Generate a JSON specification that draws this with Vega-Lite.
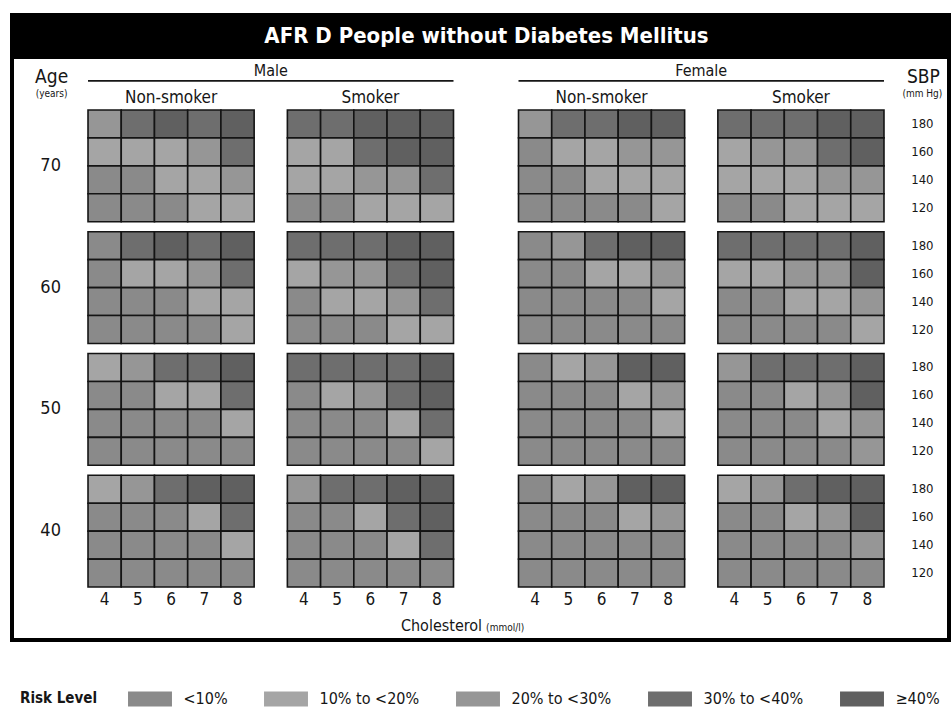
{
  "$schema": "https://vega.github.io/schema/vega-lite/v6.json",
  "description": "WHO risk chart, AFR D, people without diabetes",
  "padding": {"left": 10, "top": 13, "right": 0, "bottom": 0},
  "background": "white",
  "spacing": 0,
  "config": {
    "font": "Liberation Sans Narrow, DejaVu Sans Condensed, Roboto Condensed, sans-serif",
    "text": {"color": "#161616", "baseline": "middle"}
  },
  "vconcat": [
    {
      "width": 937,
      "height": 38,
      "view": {"fill": "black", "stroke": "black", "strokeWidth": 4},
      "data": {"values": [{"title": "AFR D People without Diabetes Mellitus"}]},
      "mark": {"type": "text", "color": "white", "fontSize": 22, "fontWeight": "bold", "dx": 6, "dy": 2},
      "encoding": {"text": {"field": "title"}}
    },
    {
      "width": 937,
      "height": 583,
      "view": {"fill": "white", "stroke": "black", "strokeWidth": 4},
      "data": {"values": [
        {"sex":"Male","smoker":"Non-smoker","age":70,"sbp":180,"chol":4,"risk":2},
        {"sex":"Male","smoker":"Non-smoker","age":70,"sbp":180,"chol":5,"risk":3},
        {"sex":"Male","smoker":"Non-smoker","age":70,"sbp":180,"chol":6,"risk":4},
        {"sex":"Male","smoker":"Non-smoker","age":70,"sbp":180,"chol":7,"risk":3},
        {"sex":"Male","smoker":"Non-smoker","age":70,"sbp":180,"chol":8,"risk":4},
        {"sex":"Male","smoker":"Non-smoker","age":70,"sbp":160,"chol":4,"risk":1},
        {"sex":"Male","smoker":"Non-smoker","age":70,"sbp":160,"chol":5,"risk":1},
        {"sex":"Male","smoker":"Non-smoker","age":70,"sbp":160,"chol":6,"risk":1},
        {"sex":"Male","smoker":"Non-smoker","age":70,"sbp":160,"chol":7,"risk":2},
        {"sex":"Male","smoker":"Non-smoker","age":70,"sbp":160,"chol":8,"risk":3},
        {"sex":"Male","smoker":"Non-smoker","age":70,"sbp":140,"chol":4,"risk":0},
        {"sex":"Male","smoker":"Non-smoker","age":70,"sbp":140,"chol":5,"risk":0},
        {"sex":"Male","smoker":"Non-smoker","age":70,"sbp":140,"chol":6,"risk":1},
        {"sex":"Male","smoker":"Non-smoker","age":70,"sbp":140,"chol":7,"risk":1},
        {"sex":"Male","smoker":"Non-smoker","age":70,"sbp":140,"chol":8,"risk":2},
        {"sex":"Male","smoker":"Non-smoker","age":70,"sbp":120,"chol":4,"risk":0},
        {"sex":"Male","smoker":"Non-smoker","age":70,"sbp":120,"chol":5,"risk":0},
        {"sex":"Male","smoker":"Non-smoker","age":70,"sbp":120,"chol":6,"risk":0},
        {"sex":"Male","smoker":"Non-smoker","age":70,"sbp":120,"chol":7,"risk":1},
        {"sex":"Male","smoker":"Non-smoker","age":70,"sbp":120,"chol":8,"risk":1},
        {"sex":"Male","smoker":"Non-smoker","age":60,"sbp":180,"chol":4,"risk":0},
        {"sex":"Male","smoker":"Non-smoker","age":60,"sbp":180,"chol":5,"risk":3},
        {"sex":"Male","smoker":"Non-smoker","age":60,"sbp":180,"chol":6,"risk":4},
        {"sex":"Male","smoker":"Non-smoker","age":60,"sbp":180,"chol":7,"risk":3},
        {"sex":"Male","smoker":"Non-smoker","age":60,"sbp":180,"chol":8,"risk":4},
        {"sex":"Male","smoker":"Non-smoker","age":60,"sbp":160,"chol":4,"risk":0},
        {"sex":"Male","smoker":"Non-smoker","age":60,"sbp":160,"chol":5,"risk":1},
        {"sex":"Male","smoker":"Non-smoker","age":60,"sbp":160,"chol":6,"risk":1},
        {"sex":"Male","smoker":"Non-smoker","age":60,"sbp":160,"chol":7,"risk":2},
        {"sex":"Male","smoker":"Non-smoker","age":60,"sbp":160,"chol":8,"risk":3},
        {"sex":"Male","smoker":"Non-smoker","age":60,"sbp":140,"chol":4,"risk":0},
        {"sex":"Male","smoker":"Non-smoker","age":60,"sbp":140,"chol":5,"risk":0},
        {"sex":"Male","smoker":"Non-smoker","age":60,"sbp":140,"chol":6,"risk":0},
        {"sex":"Male","smoker":"Non-smoker","age":60,"sbp":140,"chol":7,"risk":1},
        {"sex":"Male","smoker":"Non-smoker","age":60,"sbp":140,"chol":8,"risk":1},
        {"sex":"Male","smoker":"Non-smoker","age":60,"sbp":120,"chol":4,"risk":0},
        {"sex":"Male","smoker":"Non-smoker","age":60,"sbp":120,"chol":5,"risk":0},
        {"sex":"Male","smoker":"Non-smoker","age":60,"sbp":120,"chol":6,"risk":0},
        {"sex":"Male","smoker":"Non-smoker","age":60,"sbp":120,"chol":7,"risk":0},
        {"sex":"Male","smoker":"Non-smoker","age":60,"sbp":120,"chol":8,"risk":1},
        {"sex":"Male","smoker":"Non-smoker","age":50,"sbp":180,"chol":4,"risk":1},
        {"sex":"Male","smoker":"Non-smoker","age":50,"sbp":180,"chol":5,"risk":2},
        {"sex":"Male","smoker":"Non-smoker","age":50,"sbp":180,"chol":6,"risk":3},
        {"sex":"Male","smoker":"Non-smoker","age":50,"sbp":180,"chol":7,"risk":3},
        {"sex":"Male","smoker":"Non-smoker","age":50,"sbp":180,"chol":8,"risk":4},
        {"sex":"Male","smoker":"Non-smoker","age":50,"sbp":160,"chol":4,"risk":0},
        {"sex":"Male","smoker":"Non-smoker","age":50,"sbp":160,"chol":5,"risk":0},
        {"sex":"Male","smoker":"Non-smoker","age":50,"sbp":160,"chol":6,"risk":1},
        {"sex":"Male","smoker":"Non-smoker","age":50,"sbp":160,"chol":7,"risk":1},
        {"sex":"Male","smoker":"Non-smoker","age":50,"sbp":160,"chol":8,"risk":3},
        {"sex":"Male","smoker":"Non-smoker","age":50,"sbp":140,"chol":4,"risk":0},
        {"sex":"Male","smoker":"Non-smoker","age":50,"sbp":140,"chol":5,"risk":0},
        {"sex":"Male","smoker":"Non-smoker","age":50,"sbp":140,"chol":6,"risk":0},
        {"sex":"Male","smoker":"Non-smoker","age":50,"sbp":140,"chol":7,"risk":0},
        {"sex":"Male","smoker":"Non-smoker","age":50,"sbp":140,"chol":8,"risk":1},
        {"sex":"Male","smoker":"Non-smoker","age":50,"sbp":120,"chol":4,"risk":0},
        {"sex":"Male","smoker":"Non-smoker","age":50,"sbp":120,"chol":5,"risk":0},
        {"sex":"Male","smoker":"Non-smoker","age":50,"sbp":120,"chol":6,"risk":0},
        {"sex":"Male","smoker":"Non-smoker","age":50,"sbp":120,"chol":7,"risk":0},
        {"sex":"Male","smoker":"Non-smoker","age":50,"sbp":120,"chol":8,"risk":0},
        {"sex":"Male","smoker":"Non-smoker","age":40,"sbp":180,"chol":4,"risk":1},
        {"sex":"Male","smoker":"Non-smoker","age":40,"sbp":180,"chol":5,"risk":2},
        {"sex":"Male","smoker":"Non-smoker","age":40,"sbp":180,"chol":6,"risk":3},
        {"sex":"Male","smoker":"Non-smoker","age":40,"sbp":180,"chol":7,"risk":4},
        {"sex":"Male","smoker":"Non-smoker","age":40,"sbp":180,"chol":8,"risk":4},
        {"sex":"Male","smoker":"Non-smoker","age":40,"sbp":160,"chol":4,"risk":0},
        {"sex":"Male","smoker":"Non-smoker","age":40,"sbp":160,"chol":5,"risk":0},
        {"sex":"Male","smoker":"Non-smoker","age":40,"sbp":160,"chol":6,"risk":0},
        {"sex":"Male","smoker":"Non-smoker","age":40,"sbp":160,"chol":7,"risk":1},
        {"sex":"Male","smoker":"Non-smoker","age":40,"sbp":160,"chol":8,"risk":3},
        {"sex":"Male","smoker":"Non-smoker","age":40,"sbp":140,"chol":4,"risk":0},
        {"sex":"Male","smoker":"Non-smoker","age":40,"sbp":140,"chol":5,"risk":0},
        {"sex":"Male","smoker":"Non-smoker","age":40,"sbp":140,"chol":6,"risk":0},
        {"sex":"Male","smoker":"Non-smoker","age":40,"sbp":140,"chol":7,"risk":0},
        {"sex":"Male","smoker":"Non-smoker","age":40,"sbp":140,"chol":8,"risk":1},
        {"sex":"Male","smoker":"Non-smoker","age":40,"sbp":120,"chol":4,"risk":0},
        {"sex":"Male","smoker":"Non-smoker","age":40,"sbp":120,"chol":5,"risk":0},
        {"sex":"Male","smoker":"Non-smoker","age":40,"sbp":120,"chol":6,"risk":0},
        {"sex":"Male","smoker":"Non-smoker","age":40,"sbp":120,"chol":7,"risk":0},
        {"sex":"Male","smoker":"Non-smoker","age":40,"sbp":120,"chol":8,"risk":0},
        {"sex":"Male","smoker":"Smoker","age":70,"sbp":180,"chol":4,"risk":3},
        {"sex":"Male","smoker":"Smoker","age":70,"sbp":180,"chol":5,"risk":3},
        {"sex":"Male","smoker":"Smoker","age":70,"sbp":180,"chol":6,"risk":4},
        {"sex":"Male","smoker":"Smoker","age":70,"sbp":180,"chol":7,"risk":4},
        {"sex":"Male","smoker":"Smoker","age":70,"sbp":180,"chol":8,"risk":4},
        {"sex":"Male","smoker":"Smoker","age":70,"sbp":160,"chol":4,"risk":1},
        {"sex":"Male","smoker":"Smoker","age":70,"sbp":160,"chol":5,"risk":1},
        {"sex":"Male","smoker":"Smoker","age":70,"sbp":160,"chol":6,"risk":3},
        {"sex":"Male","smoker":"Smoker","age":70,"sbp":160,"chol":7,"risk":4},
        {"sex":"Male","smoker":"Smoker","age":70,"sbp":160,"chol":8,"risk":4},
        {"sex":"Male","smoker":"Smoker","age":70,"sbp":140,"chol":4,"risk":1},
        {"sex":"Male","smoker":"Smoker","age":70,"sbp":140,"chol":5,"risk":1},
        {"sex":"Male","smoker":"Smoker","age":70,"sbp":140,"chol":6,"risk":2},
        {"sex":"Male","smoker":"Smoker","age":70,"sbp":140,"chol":7,"risk":2},
        {"sex":"Male","smoker":"Smoker","age":70,"sbp":140,"chol":8,"risk":3},
        {"sex":"Male","smoker":"Smoker","age":70,"sbp":120,"chol":4,"risk":0},
        {"sex":"Male","smoker":"Smoker","age":70,"sbp":120,"chol":5,"risk":0},
        {"sex":"Male","smoker":"Smoker","age":70,"sbp":120,"chol":6,"risk":1},
        {"sex":"Male","smoker":"Smoker","age":70,"sbp":120,"chol":7,"risk":1},
        {"sex":"Male","smoker":"Smoker","age":70,"sbp":120,"chol":8,"risk":1},
        {"sex":"Male","smoker":"Smoker","age":60,"sbp":180,"chol":4,"risk":3},
        {"sex":"Male","smoker":"Smoker","age":60,"sbp":180,"chol":5,"risk":3},
        {"sex":"Male","smoker":"Smoker","age":60,"sbp":180,"chol":6,"risk":3},
        {"sex":"Male","smoker":"Smoker","age":60,"sbp":180,"chol":7,"risk":4},
        {"sex":"Male","smoker":"Smoker","age":60,"sbp":180,"chol":8,"risk":4},
        {"sex":"Male","smoker":"Smoker","age":60,"sbp":160,"chol":4,"risk":1},
        {"sex":"Male","smoker":"Smoker","age":60,"sbp":160,"chol":5,"risk":2},
        {"sex":"Male","smoker":"Smoker","age":60,"sbp":160,"chol":6,"risk":2},
        {"sex":"Male","smoker":"Smoker","age":60,"sbp":160,"chol":7,"risk":3},
        {"sex":"Male","smoker":"Smoker","age":60,"sbp":160,"chol":8,"risk":4},
        {"sex":"Male","smoker":"Smoker","age":60,"sbp":140,"chol":4,"risk":0},
        {"sex":"Male","smoker":"Smoker","age":60,"sbp":140,"chol":5,"risk":1},
        {"sex":"Male","smoker":"Smoker","age":60,"sbp":140,"chol":6,"risk":1},
        {"sex":"Male","smoker":"Smoker","age":60,"sbp":140,"chol":7,"risk":2},
        {"sex":"Male","smoker":"Smoker","age":60,"sbp":140,"chol":8,"risk":3},
        {"sex":"Male","smoker":"Smoker","age":60,"sbp":120,"chol":4,"risk":0},
        {"sex":"Male","smoker":"Smoker","age":60,"sbp":120,"chol":5,"risk":0},
        {"sex":"Male","smoker":"Smoker","age":60,"sbp":120,"chol":6,"risk":0},
        {"sex":"Male","smoker":"Smoker","age":60,"sbp":120,"chol":7,"risk":1},
        {"sex":"Male","smoker":"Smoker","age":60,"sbp":120,"chol":8,"risk":1},
        {"sex":"Male","smoker":"Smoker","age":50,"sbp":180,"chol":4,"risk":3},
        {"sex":"Male","smoker":"Smoker","age":50,"sbp":180,"chol":5,"risk":3},
        {"sex":"Male","smoker":"Smoker","age":50,"sbp":180,"chol":6,"risk":3},
        {"sex":"Male","smoker":"Smoker","age":50,"sbp":180,"chol":7,"risk":3},
        {"sex":"Male","smoker":"Smoker","age":50,"sbp":180,"chol":8,"risk":4},
        {"sex":"Male","smoker":"Smoker","age":50,"sbp":160,"chol":4,"risk":0},
        {"sex":"Male","smoker":"Smoker","age":50,"sbp":160,"chol":5,"risk":1},
        {"sex":"Male","smoker":"Smoker","age":50,"sbp":160,"chol":6,"risk":2},
        {"sex":"Male","smoker":"Smoker","age":50,"sbp":160,"chol":7,"risk":3},
        {"sex":"Male","smoker":"Smoker","age":50,"sbp":160,"chol":8,"risk":4},
        {"sex":"Male","smoker":"Smoker","age":50,"sbp":140,"chol":4,"risk":0},
        {"sex":"Male","smoker":"Smoker","age":50,"sbp":140,"chol":5,"risk":0},
        {"sex":"Male","smoker":"Smoker","age":50,"sbp":140,"chol":6,"risk":0},
        {"sex":"Male","smoker":"Smoker","age":50,"sbp":140,"chol":7,"risk":1},
        {"sex":"Male","smoker":"Smoker","age":50,"sbp":140,"chol":8,"risk":3},
        {"sex":"Male","smoker":"Smoker","age":50,"sbp":120,"chol":4,"risk":0},
        {"sex":"Male","smoker":"Smoker","age":50,"sbp":120,"chol":5,"risk":0},
        {"sex":"Male","smoker":"Smoker","age":50,"sbp":120,"chol":6,"risk":0},
        {"sex":"Male","smoker":"Smoker","age":50,"sbp":120,"chol":7,"risk":0},
        {"sex":"Male","smoker":"Smoker","age":50,"sbp":120,"chol":8,"risk":1},
        {"sex":"Male","smoker":"Smoker","age":40,"sbp":180,"chol":4,"risk":2},
        {"sex":"Male","smoker":"Smoker","age":40,"sbp":180,"chol":5,"risk":3},
        {"sex":"Male","smoker":"Smoker","age":40,"sbp":180,"chol":6,"risk":3},
        {"sex":"Male","smoker":"Smoker","age":40,"sbp":180,"chol":7,"risk":4},
        {"sex":"Male","smoker":"Smoker","age":40,"sbp":180,"chol":8,"risk":4},
        {"sex":"Male","smoker":"Smoker","age":40,"sbp":160,"chol":4,"risk":0},
        {"sex":"Male","smoker":"Smoker","age":40,"sbp":160,"chol":5,"risk":0},
        {"sex":"Male","smoker":"Smoker","age":40,"sbp":160,"chol":6,"risk":1},
        {"sex":"Male","smoker":"Smoker","age":40,"sbp":160,"chol":7,"risk":3},
        {"sex":"Male","smoker":"Smoker","age":40,"sbp":160,"chol":8,"risk":4},
        {"sex":"Male","smoker":"Smoker","age":40,"sbp":140,"chol":4,"risk":0},
        {"sex":"Male","smoker":"Smoker","age":40,"sbp":140,"chol":5,"risk":0},
        {"sex":"Male","smoker":"Smoker","age":40,"sbp":140,"chol":6,"risk":0},
        {"sex":"Male","smoker":"Smoker","age":40,"sbp":140,"chol":7,"risk":1},
        {"sex":"Male","smoker":"Smoker","age":40,"sbp":140,"chol":8,"risk":3},
        {"sex":"Male","smoker":"Smoker","age":40,"sbp":120,"chol":4,"risk":0},
        {"sex":"Male","smoker":"Smoker","age":40,"sbp":120,"chol":5,"risk":0},
        {"sex":"Male","smoker":"Smoker","age":40,"sbp":120,"chol":6,"risk":0},
        {"sex":"Male","smoker":"Smoker","age":40,"sbp":120,"chol":7,"risk":0},
        {"sex":"Male","smoker":"Smoker","age":40,"sbp":120,"chol":8,"risk":0},
        {"sex":"Female","smoker":"Non-smoker","age":70,"sbp":180,"chol":4,"risk":2},
        {"sex":"Female","smoker":"Non-smoker","age":70,"sbp":180,"chol":5,"risk":3},
        {"sex":"Female","smoker":"Non-smoker","age":70,"sbp":180,"chol":6,"risk":3},
        {"sex":"Female","smoker":"Non-smoker","age":70,"sbp":180,"chol":7,"risk":4},
        {"sex":"Female","smoker":"Non-smoker","age":70,"sbp":180,"chol":8,"risk":4},
        {"sex":"Female","smoker":"Non-smoker","age":70,"sbp":160,"chol":4,"risk":0},
        {"sex":"Female","smoker":"Non-smoker","age":70,"sbp":160,"chol":5,"risk":1},
        {"sex":"Female","smoker":"Non-smoker","age":70,"sbp":160,"chol":6,"risk":1},
        {"sex":"Female","smoker":"Non-smoker","age":70,"sbp":160,"chol":7,"risk":2},
        {"sex":"Female","smoker":"Non-smoker","age":70,"sbp":160,"chol":8,"risk":2},
        {"sex":"Female","smoker":"Non-smoker","age":70,"sbp":140,"chol":4,"risk":0},
        {"sex":"Female","smoker":"Non-smoker","age":70,"sbp":140,"chol":5,"risk":0},
        {"sex":"Female","smoker":"Non-smoker","age":70,"sbp":140,"chol":6,"risk":1},
        {"sex":"Female","smoker":"Non-smoker","age":70,"sbp":140,"chol":7,"risk":1},
        {"sex":"Female","smoker":"Non-smoker","age":70,"sbp":140,"chol":8,"risk":1},
        {"sex":"Female","smoker":"Non-smoker","age":70,"sbp":120,"chol":4,"risk":0},
        {"sex":"Female","smoker":"Non-smoker","age":70,"sbp":120,"chol":5,"risk":0},
        {"sex":"Female","smoker":"Non-smoker","age":70,"sbp":120,"chol":6,"risk":0},
        {"sex":"Female","smoker":"Non-smoker","age":70,"sbp":120,"chol":7,"risk":0},
        {"sex":"Female","smoker":"Non-smoker","age":70,"sbp":120,"chol":8,"risk":1},
        {"sex":"Female","smoker":"Non-smoker","age":60,"sbp":180,"chol":4,"risk":0},
        {"sex":"Female","smoker":"Non-smoker","age":60,"sbp":180,"chol":5,"risk":2},
        {"sex":"Female","smoker":"Non-smoker","age":60,"sbp":180,"chol":6,"risk":3},
        {"sex":"Female","smoker":"Non-smoker","age":60,"sbp":180,"chol":7,"risk":4},
        {"sex":"Female","smoker":"Non-smoker","age":60,"sbp":180,"chol":8,"risk":4},
        {"sex":"Female","smoker":"Non-smoker","age":60,"sbp":160,"chol":4,"risk":0},
        {"sex":"Female","smoker":"Non-smoker","age":60,"sbp":160,"chol":5,"risk":0},
        {"sex":"Female","smoker":"Non-smoker","age":60,"sbp":160,"chol":6,"risk":1},
        {"sex":"Female","smoker":"Non-smoker","age":60,"sbp":160,"chol":7,"risk":1},
        {"sex":"Female","smoker":"Non-smoker","age":60,"sbp":160,"chol":8,"risk":2},
        {"sex":"Female","smoker":"Non-smoker","age":60,"sbp":140,"chol":4,"risk":0},
        {"sex":"Female","smoker":"Non-smoker","age":60,"sbp":140,"chol":5,"risk":0},
        {"sex":"Female","smoker":"Non-smoker","age":60,"sbp":140,"chol":6,"risk":0},
        {"sex":"Female","smoker":"Non-smoker","age":60,"sbp":140,"chol":7,"risk":0},
        {"sex":"Female","smoker":"Non-smoker","age":60,"sbp":140,"chol":8,"risk":1},
        {"sex":"Female","smoker":"Non-smoker","age":60,"sbp":120,"chol":4,"risk":0},
        {"sex":"Female","smoker":"Non-smoker","age":60,"sbp":120,"chol":5,"risk":0},
        {"sex":"Female","smoker":"Non-smoker","age":60,"sbp":120,"chol":6,"risk":0},
        {"sex":"Female","smoker":"Non-smoker","age":60,"sbp":120,"chol":7,"risk":0},
        {"sex":"Female","smoker":"Non-smoker","age":60,"sbp":120,"chol":8,"risk":0},
        {"sex":"Female","smoker":"Non-smoker","age":50,"sbp":180,"chol":4,"risk":0},
        {"sex":"Female","smoker":"Non-smoker","age":50,"sbp":180,"chol":5,"risk":1},
        {"sex":"Female","smoker":"Non-smoker","age":50,"sbp":180,"chol":6,"risk":2},
        {"sex":"Female","smoker":"Non-smoker","age":50,"sbp":180,"chol":7,"risk":4},
        {"sex":"Female","smoker":"Non-smoker","age":50,"sbp":180,"chol":8,"risk":4},
        {"sex":"Female","smoker":"Non-smoker","age":50,"sbp":160,"chol":4,"risk":0},
        {"sex":"Female","smoker":"Non-smoker","age":50,"sbp":160,"chol":5,"risk":0},
        {"sex":"Female","smoker":"Non-smoker","age":50,"sbp":160,"chol":6,"risk":0},
        {"sex":"Female","smoker":"Non-smoker","age":50,"sbp":160,"chol":7,"risk":1},
        {"sex":"Female","smoker":"Non-smoker","age":50,"sbp":160,"chol":8,"risk":2},
        {"sex":"Female","smoker":"Non-smoker","age":50,"sbp":140,"chol":4,"risk":0},
        {"sex":"Female","smoker":"Non-smoker","age":50,"sbp":140,"chol":5,"risk":0},
        {"sex":"Female","smoker":"Non-smoker","age":50,"sbp":140,"chol":6,"risk":0},
        {"sex":"Female","smoker":"Non-smoker","age":50,"sbp":140,"chol":7,"risk":0},
        {"sex":"Female","smoker":"Non-smoker","age":50,"sbp":140,"chol":8,"risk":1},
        {"sex":"Female","smoker":"Non-smoker","age":50,"sbp":120,"chol":4,"risk":0},
        {"sex":"Female","smoker":"Non-smoker","age":50,"sbp":120,"chol":5,"risk":0},
        {"sex":"Female","smoker":"Non-smoker","age":50,"sbp":120,"chol":6,"risk":0},
        {"sex":"Female","smoker":"Non-smoker","age":50,"sbp":120,"chol":7,"risk":0},
        {"sex":"Female","smoker":"Non-smoker","age":50,"sbp":120,"chol":8,"risk":0},
        {"sex":"Female","smoker":"Non-smoker","age":40,"sbp":180,"chol":4,"risk":0},
        {"sex":"Female","smoker":"Non-smoker","age":40,"sbp":180,"chol":5,"risk":1},
        {"sex":"Female","smoker":"Non-smoker","age":40,"sbp":180,"chol":6,"risk":2},
        {"sex":"Female","smoker":"Non-smoker","age":40,"sbp":180,"chol":7,"risk":4},
        {"sex":"Female","smoker":"Non-smoker","age":40,"sbp":180,"chol":8,"risk":4},
        {"sex":"Female","smoker":"Non-smoker","age":40,"sbp":160,"chol":4,"risk":0},
        {"sex":"Female","smoker":"Non-smoker","age":40,"sbp":160,"chol":5,"risk":0},
        {"sex":"Female","smoker":"Non-smoker","age":40,"sbp":160,"chol":6,"risk":0},
        {"sex":"Female","smoker":"Non-smoker","age":40,"sbp":160,"chol":7,"risk":1},
        {"sex":"Female","smoker":"Non-smoker","age":40,"sbp":160,"chol":8,"risk":2},
        {"sex":"Female","smoker":"Non-smoker","age":40,"sbp":140,"chol":4,"risk":0},
        {"sex":"Female","smoker":"Non-smoker","age":40,"sbp":140,"chol":5,"risk":0},
        {"sex":"Female","smoker":"Non-smoker","age":40,"sbp":140,"chol":6,"risk":0},
        {"sex":"Female","smoker":"Non-smoker","age":40,"sbp":140,"chol":7,"risk":0},
        {"sex":"Female","smoker":"Non-smoker","age":40,"sbp":140,"chol":8,"risk":0},
        {"sex":"Female","smoker":"Non-smoker","age":40,"sbp":120,"chol":4,"risk":0},
        {"sex":"Female","smoker":"Non-smoker","age":40,"sbp":120,"chol":5,"risk":0},
        {"sex":"Female","smoker":"Non-smoker","age":40,"sbp":120,"chol":6,"risk":0},
        {"sex":"Female","smoker":"Non-smoker","age":40,"sbp":120,"chol":7,"risk":0},
        {"sex":"Female","smoker":"Non-smoker","age":40,"sbp":120,"chol":8,"risk":0},
        {"sex":"Female","smoker":"Smoker","age":70,"sbp":180,"chol":4,"risk":3},
        {"sex":"Female","smoker":"Smoker","age":70,"sbp":180,"chol":5,"risk":3},
        {"sex":"Female","smoker":"Smoker","age":70,"sbp":180,"chol":6,"risk":3},
        {"sex":"Female","smoker":"Smoker","age":70,"sbp":180,"chol":7,"risk":4},
        {"sex":"Female","smoker":"Smoker","age":70,"sbp":180,"chol":8,"risk":4},
        {"sex":"Female","smoker":"Smoker","age":70,"sbp":160,"chol":4,"risk":1},
        {"sex":"Female","smoker":"Smoker","age":70,"sbp":160,"chol":5,"risk":2},
        {"sex":"Female","smoker":"Smoker","age":70,"sbp":160,"chol":6,"risk":2},
        {"sex":"Female","smoker":"Smoker","age":70,"sbp":160,"chol":7,"risk":3},
        {"sex":"Female","smoker":"Smoker","age":70,"sbp":160,"chol":8,"risk":4},
        {"sex":"Female","smoker":"Smoker","age":70,"sbp":140,"chol":4,"risk":1},
        {"sex":"Female","smoker":"Smoker","age":70,"sbp":140,"chol":5,"risk":1},
        {"sex":"Female","smoker":"Smoker","age":70,"sbp":140,"chol":6,"risk":1},
        {"sex":"Female","smoker":"Smoker","age":70,"sbp":140,"chol":7,"risk":2},
        {"sex":"Female","smoker":"Smoker","age":70,"sbp":140,"chol":8,"risk":2},
        {"sex":"Female","smoker":"Smoker","age":70,"sbp":120,"chol":4,"risk":0},
        {"sex":"Female","smoker":"Smoker","age":70,"sbp":120,"chol":5,"risk":0},
        {"sex":"Female","smoker":"Smoker","age":70,"sbp":120,"chol":6,"risk":1},
        {"sex":"Female","smoker":"Smoker","age":70,"sbp":120,"chol":7,"risk":1},
        {"sex":"Female","smoker":"Smoker","age":70,"sbp":120,"chol":8,"risk":1},
        {"sex":"Female","smoker":"Smoker","age":60,"sbp":180,"chol":4,"risk":3},
        {"sex":"Female","smoker":"Smoker","age":60,"sbp":180,"chol":5,"risk":3},
        {"sex":"Female","smoker":"Smoker","age":60,"sbp":180,"chol":6,"risk":3},
        {"sex":"Female","smoker":"Smoker","age":60,"sbp":180,"chol":7,"risk":3},
        {"sex":"Female","smoker":"Smoker","age":60,"sbp":180,"chol":8,"risk":4},
        {"sex":"Female","smoker":"Smoker","age":60,"sbp":160,"chol":4,"risk":1},
        {"sex":"Female","smoker":"Smoker","age":60,"sbp":160,"chol":5,"risk":1},
        {"sex":"Female","smoker":"Smoker","age":60,"sbp":160,"chol":6,"risk":2},
        {"sex":"Female","smoker":"Smoker","age":60,"sbp":160,"chol":7,"risk":2},
        {"sex":"Female","smoker":"Smoker","age":60,"sbp":160,"chol":8,"risk":4},
        {"sex":"Female","smoker":"Smoker","age":60,"sbp":140,"chol":4,"risk":0},
        {"sex":"Female","smoker":"Smoker","age":60,"sbp":140,"chol":5,"risk":0},
        {"sex":"Female","smoker":"Smoker","age":60,"sbp":140,"chol":6,"risk":1},
        {"sex":"Female","smoker":"Smoker","age":60,"sbp":140,"chol":7,"risk":1},
        {"sex":"Female","smoker":"Smoker","age":60,"sbp":140,"chol":8,"risk":2},
        {"sex":"Female","smoker":"Smoker","age":60,"sbp":120,"chol":4,"risk":0},
        {"sex":"Female","smoker":"Smoker","age":60,"sbp":120,"chol":5,"risk":0},
        {"sex":"Female","smoker":"Smoker","age":60,"sbp":120,"chol":6,"risk":0},
        {"sex":"Female","smoker":"Smoker","age":60,"sbp":120,"chol":7,"risk":0},
        {"sex":"Female","smoker":"Smoker","age":60,"sbp":120,"chol":8,"risk":1},
        {"sex":"Female","smoker":"Smoker","age":50,"sbp":180,"chol":4,"risk":2},
        {"sex":"Female","smoker":"Smoker","age":50,"sbp":180,"chol":5,"risk":3},
        {"sex":"Female","smoker":"Smoker","age":50,"sbp":180,"chol":6,"risk":3},
        {"sex":"Female","smoker":"Smoker","age":50,"sbp":180,"chol":7,"risk":3},
        {"sex":"Female","smoker":"Smoker","age":50,"sbp":180,"chol":8,"risk":4},
        {"sex":"Female","smoker":"Smoker","age":50,"sbp":160,"chol":4,"risk":0},
        {"sex":"Female","smoker":"Smoker","age":50,"sbp":160,"chol":5,"risk":0},
        {"sex":"Female","smoker":"Smoker","age":50,"sbp":160,"chol":6,"risk":1},
        {"sex":"Female","smoker":"Smoker","age":50,"sbp":160,"chol":7,"risk":2},
        {"sex":"Female","smoker":"Smoker","age":50,"sbp":160,"chol":8,"risk":4},
        {"sex":"Female","smoker":"Smoker","age":50,"sbp":140,"chol":4,"risk":0},
        {"sex":"Female","smoker":"Smoker","age":50,"sbp":140,"chol":5,"risk":0},
        {"sex":"Female","smoker":"Smoker","age":50,"sbp":140,"chol":6,"risk":0},
        {"sex":"Female","smoker":"Smoker","age":50,"sbp":140,"chol":7,"risk":1},
        {"sex":"Female","smoker":"Smoker","age":50,"sbp":140,"chol":8,"risk":2},
        {"sex":"Female","smoker":"Smoker","age":50,"sbp":120,"chol":4,"risk":0},
        {"sex":"Female","smoker":"Smoker","age":50,"sbp":120,"chol":5,"risk":0},
        {"sex":"Female","smoker":"Smoker","age":50,"sbp":120,"chol":6,"risk":0},
        {"sex":"Female","smoker":"Smoker","age":50,"sbp":120,"chol":7,"risk":0},
        {"sex":"Female","smoker":"Smoker","age":50,"sbp":120,"chol":8,"risk":2},
        {"sex":"Female","smoker":"Smoker","age":40,"sbp":180,"chol":4,"risk":1},
        {"sex":"Female","smoker":"Smoker","age":40,"sbp":180,"chol":5,"risk":2},
        {"sex":"Female","smoker":"Smoker","age":40,"sbp":180,"chol":6,"risk":3},
        {"sex":"Female","smoker":"Smoker","age":40,"sbp":180,"chol":7,"risk":4},
        {"sex":"Female","smoker":"Smoker","age":40,"sbp":180,"chol":8,"risk":4},
        {"sex":"Female","smoker":"Smoker","age":40,"sbp":160,"chol":4,"risk":0},
        {"sex":"Female","smoker":"Smoker","age":40,"sbp":160,"chol":5,"risk":0},
        {"sex":"Female","smoker":"Smoker","age":40,"sbp":160,"chol":6,"risk":1},
        {"sex":"Female","smoker":"Smoker","age":40,"sbp":160,"chol":7,"risk":2},
        {"sex":"Female","smoker":"Smoker","age":40,"sbp":160,"chol":8,"risk":4},
        {"sex":"Female","smoker":"Smoker","age":40,"sbp":140,"chol":4,"risk":0},
        {"sex":"Female","smoker":"Smoker","age":40,"sbp":140,"chol":5,"risk":0},
        {"sex":"Female","smoker":"Smoker","age":40,"sbp":140,"chol":6,"risk":0},
        {"sex":"Female","smoker":"Smoker","age":40,"sbp":140,"chol":7,"risk":0},
        {"sex":"Female","smoker":"Smoker","age":40,"sbp":140,"chol":8,"risk":2},
        {"sex":"Female","smoker":"Smoker","age":40,"sbp":120,"chol":4,"risk":0},
        {"sex":"Female","smoker":"Smoker","age":40,"sbp":120,"chol":5,"risk":0},
        {"sex":"Female","smoker":"Smoker","age":40,"sbp":120,"chol":6,"risk":0},
        {"sex":"Female","smoker":"Smoker","age":40,"sbp":120,"chol":7,"risk":0},
        {"sex":"Female","smoker":"Smoker","age":40,"sbp":120,"chol":8,"risk":0}
      ]},
      "transform": [{"calculate": "datum.smoker + datum.chol", "as": "cell"}],
      "layer": [
        {
          "mark": {"type": "rect", "stroke": "#141414", "strokeWidth": 1.6},
          "encoding": {
            "x": {"field": "sex", "type": "nominal", "axis": null,
                  "scale": {"domain": ["Male", "Female"], "paddingInner": 0.151, "paddingOuter": 0.1638, "align": 0.539}},
            "xOffset": {"field": "cell", "type": "nominal",
                  "scale": {"domain": ["Non-smoker4", "Non-smoker5", "Non-smoker6", "Non-smoker7", "Non-smoker8", "gap", "Smoker4", "Smoker5", "Smoker6", "Smoker7", "Smoker8"], "paddingInner": 0, "paddingOuter": 0}},
            "y": {"field": "age", "type": "ordinal", "axis": null,
                  "scale": {"domain": [70, 60, 50, 40], "paddingInner": 0.082, "paddingOuter": 0.435}},
            "yOffset": {"field": "sbp", "type": "ordinal",
                  "scale": {"domain": [180, 160, 140, 120], "paddingInner": 0, "paddingOuter": 0}},
            "color": {
              "field": "risk", "type": "ordinal",
              "scale": {"domain": [0, 1, 2, 3, 4], "range": ["#8a8a8a", "#a5a5a5", "#969696", "#6e6e6e", "#606060"]},
              "legend": {
                "title": "Risk Level", "orient": "none", "legendX": 8, "legendY": 676,
                "direction": "horizontal", "titleOrient": "left", "titleFontSize": 15,
                "titleFontWeight": "bold", "titleColor": "#161616", "titlePadding": 44,
                "titleBaseline": "top", "titleAnchor": "start", "padding": 0,
                "symbolType": "M-2.93,-1H2.93V1H-2.93Z", "symbolSize": 225,
                "symbolStrokeWidth": 0, "symbolOpacity": 1,
                "labelFontSize": 16, "labelColor": "#161616", "labelOffset": 25.5, "columnPadding": 36,
                "labelExpr": "['<10%', '10% to <20%', '20% to <30%', '30% to <40%', '≥40%'][datum.value]"
              }
            }
          }
        },
        {
          "transform": [{"filter": "datum.sex == 'Male' && datum.smoker == 'Non-smoker' && datum.chol == 4 && datum.sbp == 180"}],
          "mark": {"type": "text", "fontSize": 18, "dx": -54},
          "encoding": {
            "x": {"datum": "Male", "type": "nominal", "axis": null},
            "xOffset": {"datum": "Non-smoker4", "type": "nominal"},
            "y": {"field": "age", "type": "ordinal", "axis": null},
            "text": {"field": "age"}
          }
        },
        {
          "transform": [{"filter": "datum.sex == 'Female' && datum.smoker == 'Smoker' && datum.chol == 8"}],
          "mark": {"type": "text", "fontSize": 13, "dx": 55},
          "encoding": {
            "x": {"datum": "Female", "type": "nominal", "axis": null},
            "xOffset": {"datum": "Smoker8", "type": "nominal"},
            "y": {"field": "age", "type": "ordinal", "axis": null},
            "yOffset": {"field": "sbp", "type": "ordinal"},
            "text": {"field": "sbp"}
          }
        },
        {
          "transform": [{"filter": "datum.age == 40 && datum.sbp == 120"}],
          "mark": {"type": "text", "fontSize": 17, "dy": 26.5},
          "encoding": {
            "x": {"field": "sex", "type": "nominal", "axis": null},
            "xOffset": {"field": "cell", "type": "nominal"},
            "y": {"datum": 40, "type": "ordinal", "axis": null},
            "yOffset": {"datum": 120, "type": "ordinal"},
            "text": {"field": "chol"}
          }
        },
        {
          "transform": [{"filter": "datum.age == 70 && datum.sbp == 180 && datum.chol == 6"}],
          "mark": {"type": "text", "fontSize": 17, "dy": -26},
          "encoding": {
            "x": {"field": "sex", "type": "nominal", "axis": null},
            "xOffset": {"field": "cell", "type": "nominal"},
            "y": {"datum": 70, "type": "ordinal", "axis": null},
            "yOffset": {"datum": 180, "type": "ordinal"},
            "text": {"field": "smoker"}
          }
        },
        {
          "transform": [{"filter": "datum.age == 70 && datum.sbp == 180 && datum.chol == 6 && datum.smoker == 'Non-smoker'"}],
          "mark": {"type": "text", "fontSize": 16, "dy": -53},
          "encoding": {
            "x": {"field": "sex", "type": "nominal", "axis": null},
            "y": {"datum": 70, "type": "ordinal", "axis": null},
            "yOffset": {"datum": 180, "type": "ordinal"},
            "text": {"field": "sex"}
          }
        },
        {
          "transform": [{"filter": "datum.age == 70 && datum.sbp == 180 && datum.chol == 6 && datum.smoker == 'Non-smoker'"}],
          "mark": {"type": "rect", "height": 1.6, "yOffset": -85, "color": "#161616"},
          "encoding": {
            "x": {"field": "sex", "type": "nominal", "axis": null},
            "y": {"datum": 70, "type": "ordinal", "axis": null}
          }
        },
        {
          "data": {"values": [{"label": "Age", "note": "(years)"}]},
          "layer": [
            {
              "mark": {"type": "text", "fontSize": 19, "dx": -53, "dy": -47},
              "encoding": {
                "x": {"datum": "Male", "type": "nominal", "axis": null},
                "xOffset": {"datum": "Non-smoker4", "type": "nominal"},
                "y": {"datum": 70, "type": "ordinal", "axis": null},
                "yOffset": {"datum": 180, "type": "ordinal"},
                "text": {"field": "label"}
              }
            },
            {
              "mark": {"type": "text", "fontSize": 10, "dx": -53, "dy": -30},
              "encoding": {
                "x": {"datum": "Male", "type": "nominal", "axis": null},
                "xOffset": {"datum": "Non-smoker4", "type": "nominal"},
                "y": {"datum": 70, "type": "ordinal", "axis": null},
                "yOffset": {"datum": 180, "type": "ordinal"},
                "text": {"field": "note"}
              }
            }
          ]
        },
        {
          "data": {"values": [{"label": "SBP", "note": "(mm Hg)"}]},
          "layer": [
            {
              "mark": {"type": "text", "fontSize": 19, "dx": 56, "dy": -47},
              "encoding": {
                "x": {"datum": "Female", "type": "nominal", "axis": null},
                "xOffset": {"datum": "Smoker8", "type": "nominal"},
                "y": {"datum": 70, "type": "ordinal", "axis": null},
                "yOffset": {"datum": 180, "type": "ordinal"},
                "text": {"field": "label"}
              }
            },
            {
              "mark": {"type": "text", "fontSize": 10, "dx": 55, "dy": -30},
              "encoding": {
                "x": {"datum": "Female", "type": "nominal", "axis": null},
                "xOffset": {"datum": "Smoker8", "type": "nominal"},
                "y": {"datum": 70, "type": "ordinal", "axis": null},
                "yOffset": {"datum": 180, "type": "ordinal"},
                "text": {"field": "note"}
              }
            }
          ]
        },
        {
          "data": {"values": [{"label": "Cholesterol", "note": "(mmol/l)"}]},
          "layer": [
            {
              "mark": {"type": "text", "fontSize": 16, "align": "right", "dx": -53, "dy": 53},
              "encoding": {
                "x": {"datum": "Female", "type": "nominal", "axis": null},
                "xOffset": {"datum": "Non-smoker4", "type": "nominal"},
                "y": {"datum": 40, "type": "ordinal", "axis": null},
                "yOffset": {"datum": 120, "type": "ordinal"},
                "text": {"field": "label"}
              }
            },
            {
              "mark": {"type": "text", "fontSize": 10, "align": "left", "dx": -49, "dy": 55},
              "encoding": {
                "x": {"datum": "Female", "type": "nominal", "axis": null},
                "xOffset": {"datum": "Non-smoker4", "type": "nominal"},
                "y": {"datum": 40, "type": "ordinal", "axis": null},
                "yOffset": {"datum": 120, "type": "ordinal"},
                "text": {"field": "note"}
              }
            }
          ]
        }
      ]
    }
  ]
}
